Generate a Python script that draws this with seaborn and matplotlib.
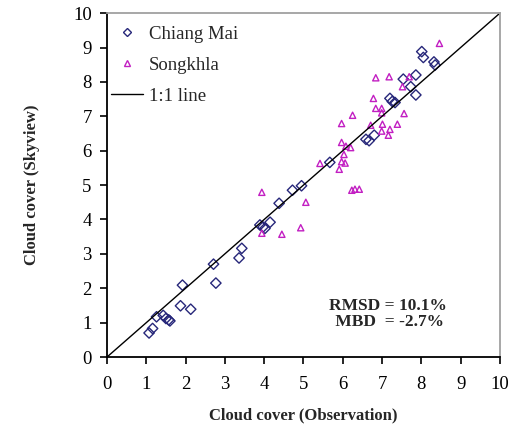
import numpy as np
import pandas as pd
import seaborn as sns
import matplotlib.pyplot as plt
from matplotlib.lines import Line2D

# Data
cm_obs = [1.07, 1.16, 1.26, 1.43, 1.50, 1.57, 1.60, 1.87, 1.92, 2.13, 2.71, 2.77,
          3.36, 3.43, 3.89, 3.97, 4.02, 4.15, 4.38, 4.72, 4.95, 5.67, 6.59, 6.67,
          6.80, 7.20, 7.26, 7.33, 7.54, 7.86, 7.73, 7.86, 8.01, 8.05, 8.32, 8.35]
cm_sky = [0.70, 0.83, 1.17, 1.21, 1.12, 1.08, 1.05, 1.49, 2.09, 1.39, 2.70, 2.15,
          2.88, 3.16, 3.84, 3.78, 3.74, 3.92, 4.47, 4.85, 4.98, 5.66, 6.33, 6.29,
          6.45, 7.52, 7.43, 7.40, 8.08, 8.20, 7.86, 7.62, 8.88, 8.71, 8.58, 8.49]

sk_obs = [3.94, 3.94, 4.45, 4.93, 5.06, 5.42, 5.91, 5.97, 6.06, 6.03, 5.97, 6.08,
          6.20, 5.97, 6.25, 6.23, 6.31, 6.42, 6.71, 6.78, 6.84, 7.18, 6.84, 6.99,
          6.99, 7.01, 6.99, 7.16, 7.20, 7.39, 7.56, 7.52, 7.69, 8.46]
sk_sky = [4.79, 3.60, 3.57, 3.76, 4.50, 5.63, 5.46, 5.68, 5.64, 5.89, 6.24, 6.13,
          6.09, 6.79, 7.03, 4.85, 4.88, 4.88, 6.74, 7.52, 8.12, 8.15, 7.23, 7.23,
          7.10, 6.77, 6.57, 6.45, 6.62, 6.77, 7.08, 7.86, 8.15, 9.12]

line_x = [0, 10]
line_y = [0, 10]

stations = ['Chiang Mai', 'Songkhla']
colors = {'Chiang Mai': '#27277a', 'Songkhla': '#c21fc2'}
markers = {'Chiang Mai': 'D', 'Songkhla': '^'}

df = pd.DataFrame({
    'obs': cm_obs + sk_obs,
    'sky': cm_sky + sk_sky,
    'station': ['Chiang Mai'] * len(cm_obs) + ['Songkhla'] * len(sk_obs),
})

sns.set_style('ticks')
plt.rcParams['font.family'] = ['Liberation Serif', 'DejaVu Serif']

fig = plt.figure(figsize=(5.17, 4.37), dpi=100)
ax = fig.add_axes([0.207, 0.183, 0.760, 0.787])

for st in stations:
    sub = df[df['station'] == st]
    sns.scatterplot(data=sub, x='obs', y='sky', ax=ax, marker=markers[st],
                    facecolor='none', edgecolor=colors[st], linewidth=1.0,
                    s=28 if st == 'Chiang Mai' else 20, legend=False)

sns.lineplot(x=line_x, y=line_y, ax=ax, color='black', linewidth=1.0)

ax.set_xlim(0, 10)
ax.set_ylim(0, 10)
ax.set_xticks(range(0, 11))
ax.set_yticks(range(0, 11))
ax.tick_params(axis='both', labelsize=13.5, direction='out', length=5,
               width=1.2, colors='black', pad=6)
ax.tick_params(axis='x', pad=9)

for side in ['left', 'bottom']:
    ax.spines[side].set_color('black')
    ax.spines[side].set_linewidth(1.3)
for side in ['top', 'right']:
    ax.spines[side].set_color('#a0a0a0')
    ax.spines[side].set_linewidth(1.3)

ax.set_xlabel('Cloud cover (Observation)', fontsize=12, fontweight='bold', labelpad=10)
ax.set_ylabel('Cloud cover (Skyview)', fontsize=12, fontweight='bold', labelpad=24)

handles = [
    Line2D([], [], linestyle='none', marker='D', markerfacecolor='none',
           markeredgecolor=colors['Chiang Mai'], markersize=4.5),
    Line2D([], [], linestyle='none', marker='^', markerfacecolor='none',
           markeredgecolor=colors['Songkhla'], markersize=4.5),
    Line2D([], [], color='black', linewidth=1.0),
]
ax.legend(handles, ['Chiang Mai', 'Songkhla', '1:1 line'], loc='upper left',
          frameon=False, fontsize=13.5, handlelength=1.7, handletextpad=0.35,
          labelspacing=0.75, borderpad=0.2, borderaxespad=0.0,
          bbox_to_anchor=(0.0, 0.975))

ax.text(7.15, 1.24, 'RMSD = 10.1%\n MBD  = -2.7%', fontsize=12.5, fontweight='bold',
        ha='center', va='center', multialignment='center', linespacing=1.0)

fig.savefig('out.png', dpi=100)
